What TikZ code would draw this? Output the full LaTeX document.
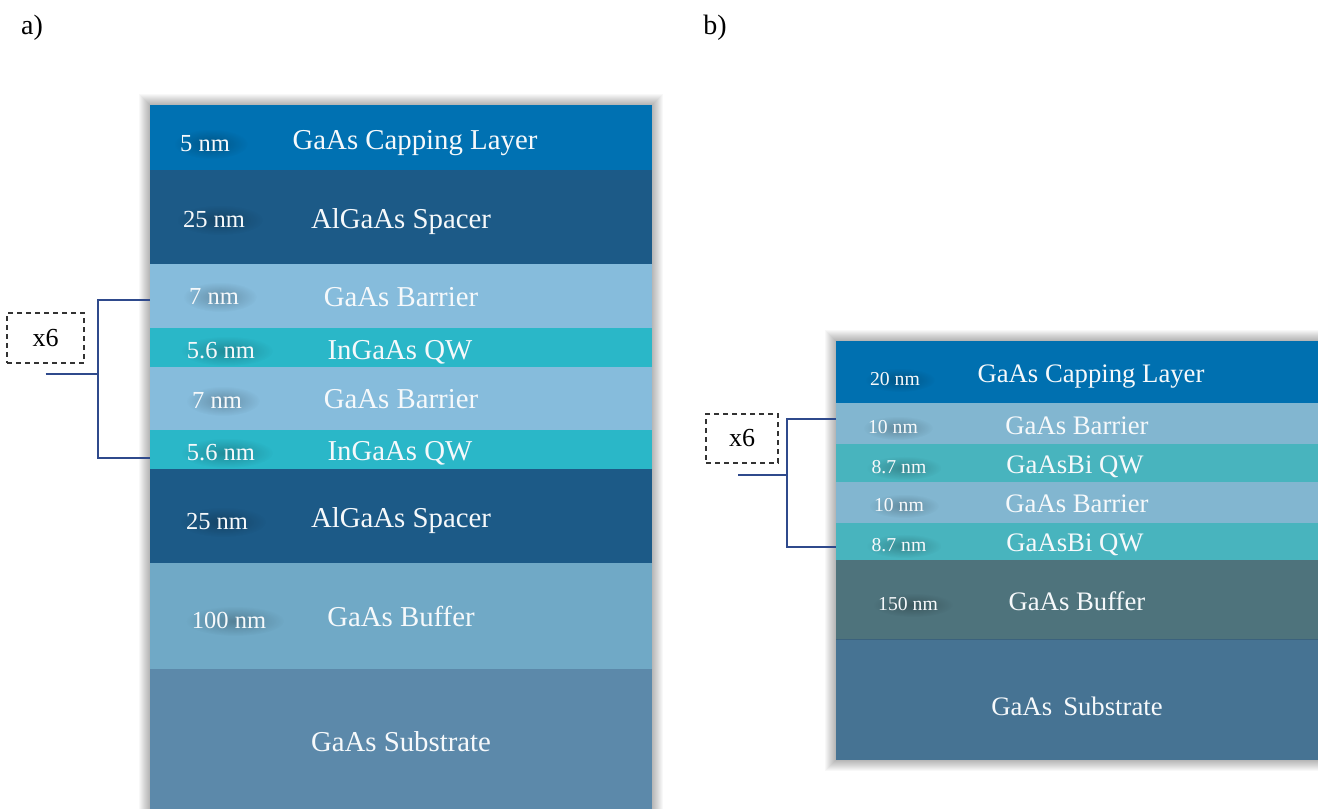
\documentclass[tikz,border=0pt]{standalone}
\usepackage{fontspec}
\setmainfont{Liberation Serif}
\usetikzlibrary{calc,fadings}

% layer colours, structure (a)
\definecolor{capA}{HTML}{0071B2}
\definecolor{spcA}{HTML}{1C5A87}
\definecolor{barA}{HTML}{86BCDC}
\definecolor{qwA}{HTML}{2AB7C8}
\definecolor{bufA}{HTML}{70A9C6}
\definecolor{subA}{HTML}{5C89AA}
% layer colours, structure (b)
\definecolor{capB}{HTML}{0070B0}
\definecolor{barB}{HTML}{82B6D0}
\definecolor{qwB}{HTML}{48B4BE}
\definecolor{bufB}{HTML}{4E737C}
\definecolor{subB}{HTML}{467393}
\definecolor{bracecol}{HTML}{2F4A8C}
\definecolor{labwhite}{HTML}{F6F9FB}

% soft radial blob used as a faint dark halo behind the thickness labels
\tikzfading[name=softglow, inner color=transparent!76, outer color=transparent!100]

\pgfdeclarelayer{bg}
\pgfdeclarelayer{glow}
\pgfsetlayers{bg,glow,main}

\begin{document}
\begin{tikzpicture}[x=1pt,y=-1pt,
  layer/.style={rectangle, inner sep=0pt, outer sep=0pt, anchor=north west, draw=none},
  lab/.style={text=labwhite, inner sep=0pt, text depth=0pt},
  mainA/.style={lab, text height=19pt, font=\fontsize{28.8}{30}\selectfont},
  mainB/.style={lab, text height=17.6pt, font=\fontsize{26.7}{28}\selectfont},
  thkA/.style={lab, text height=16.6pt, font=\fontsize{24.5}{26}\selectfont},
  thkB/.style={lab, text height=13.4pt, font=\fontsize{19.7}{21}\selectfont},
  repbox/.style={draw=black!80, dashed, dash pattern=on 5pt off 4pt, line width=1.3pt,
                 inner sep=0pt, font=\fontsize{26}{28}\selectfont},
  brace/.style={draw=bracecol, line width=1.5pt},
  panel/.style={font=\fontsize{28}{30}\selectfont, inner sep=0pt}]

\useasboundingbox (0,0) rectangle (1318,809);

\begin{pgfonlayer}{bg}
\fill[white] (0,0) rectangle (1318,809);
% soft grey glow around both stacks
\foreach \r in {1,...,11}{
  \fill[black, opacity=0.028] (150-\r,105-\r) rectangle (652+\r,809);
  \fill[black, opacity=0.028] (836-\r,341-\r) rectangle (1318,760+\r);
}
% ---------------- structure (a) layers ----------------
\node[layer, fill=capA, minimum width=502pt, minimum height=65pt] (a1) at (150,105) {};
\node[layer, fill=spcA, minimum width=502pt, minimum height=94pt] (a2) at (150,170) {};
\node[layer, fill=barA, minimum width=502pt, minimum height=64pt] (a3) at (150,264) {};
\node[layer, fill=qwA,  minimum width=502pt, minimum height=39pt] (a4) at (150,328) {};
\node[layer, fill=barA, minimum width=502pt, minimum height=63pt] (a5) at (150,367) {};
\node[layer, fill=qwA,  minimum width=502pt, minimum height=39pt] (a6) at (150,430) {};
\node[layer, fill=spcA, minimum width=502pt, minimum height=94pt] (a7) at (150,469) {};
\node[layer, fill=bufA, minimum width=502pt, minimum height=106pt] (a8) at (150,563) {};
\node[layer, fill=subA, minimum width=502pt, minimum height=140pt] (a9) at (150,669) {};
% ---------------- structure (b) layers ----------------
\node[layer, fill=capB, minimum width=482pt, minimum height=62pt] (b1) at (836,341) {};
\node[layer, fill=barB, minimum width=482pt, minimum height=41pt] (b2) at (836,403) {};
\node[layer, fill=qwB,  minimum width=482pt, minimum height=38pt] (b3) at (836,444) {};
\node[layer, fill=barB, minimum width=482pt, minimum height=41pt] (b4) at (836,482) {};
\node[layer, fill=qwB,  minimum width=482pt, minimum height=37pt] (b5) at (836,523) {};
\node[layer, fill=bufB, minimum width=482pt, minimum height=79pt] (b6) at (836,560) {};
\node[layer, fill=subB, minimum width=482pt, minimum height=121pt] (b7) at (836,639) {};
\draw[subB!85!black, line width=0.6pt] (b6.south west) -- (b6.south east);
\end{pgfonlayer}

% panel letters
\node[panel] (pa) at (32,28) {a)};
\node[panel] (pb) at (715,28) {b)};

% ---------------- structure (a) labels ----------------
\node[thkA] (a1t) at (205,143) {5 nm};
\node[mainA] (a1m) at (415,140) {GaAs Capping Layer};
\node[thkA] (a2t) at (214,219) {25 nm};
\node[mainA] (a2m) at (401,219) {AlGaAs Spacer};
\node[thkA] (a3t) at (214,296) {7 nm};
\node[mainA] (a3m) at (401,297) {GaAs Barrier};
\node[thkA] (a4t) at (221,350) {5.6 nm};
\node[mainA] (a4m) at (400,350) {InGaAs QW};
\node[thkA] (a5t) at (217,400) {7 nm};
\node[mainA] (a5m) at (401,399) {GaAs Barrier};
\node[thkA] (a6t) at (221,452) {5.6 nm};
\node[mainA] (a6m) at (400,451) {InGaAs QW};
\node[thkA] (a7t) at (217,521) {25 nm};
\node[mainA] (a7m) at (401,518) {AlGaAs Spacer};
\node[thkA] (a8t) at (229,620) {100 nm};
\node[mainA] (a8m) at (401,617) {GaAs Buffer};
\node[mainA] (a9m) at (401,742) {GaAs Substrate};

% repetition bracket (a)
\node[repbox, minimum width=77pt, minimum height=50pt] (xa) at (45.5,338) {x6};
\coordinate (xaSpine) at (98,374);
\coordinate (xaTail) at (xa.south |- xaSpine);
\draw[brace] ($(a3.west)+(0,4)$) -| ($(a6.west)+(-52,8.5)$) -- ($(a6.west)+(0,8.5)$);
\draw[brace] (xaTail) -- (xaSpine);

% ---------------- structure (b) labels ----------------
\node[thkB] (b1t) at (895,379) {20 nm};
\node[mainB] (b1m) at (1091,374) {GaAs Capping Layer};
\node[thkB] (b2t) at (893,427) {10 nm};
\node[mainB] (b2m) at (1077,426) {GaAs Barrier};
\node[thkB] (b3t) at (899,467) {8.7 nm};
\node[mainB] (b3m) at (1075,465) {GaAsBi QW};
\node[thkB] (b4t) at (899,505) {10 nm};
\node[mainB] (b4m) at (1077,504) {GaAs Barrier};
\node[thkB] (b5t) at (899,545) {8.7 nm};
\node[mainB] (b5m) at (1075,543) {GaAsBi QW};
\node[thkB] (b6t) at (908,604) {150 nm};
\node[mainB] (b6m) at (1077,602) {GaAs Buffer};
\node[mainB] (b7m) at (1077,707) {GaAs\ \,Substrate};

% repetition bracket (b)
\node[repbox, minimum width=72pt, minimum height=49pt] (xb) at (742,438.5) {x6};
\coordinate (xbSpine) at (787,475);
\coordinate (xbTail) at ($(xb.south |- xbSpine)+(-4,0)$);
\draw[brace] ($(b2.west)+(0,-4.5)$) -| ($(b5.west)+(-49,5.5)$) -- ($(b5.west)+(0,5.5)$);
\draw[brace] (xbTail) -- (xbSpine);

% faint dark halos behind the thickness labels
\begin{pgfonlayer}{glow}
\foreach \lab in {a1t,a2t,a3t,a4t,a5t,a6t,a7t,a8t}
  \path let \p1 = ($(\lab.east)-(\lab.west)$) in
    [fill=black, path fading=softglow]
    ($(\lab.center)+(6,1)$) ellipse [x radius={0.5*\x1+12pt}, y radius=15pt];
\foreach \lab in {b1t,b2t,b3t,b4t,b5t,b6t}
  \path let \p1 = ($(\lab.east)-(\lab.west)$) in
    [fill=black, path fading=softglow]
    ($(\lab.center)+(5,1)$) ellipse [x radius={0.5*\x1+10pt}, y radius=12pt];
\end{pgfonlayer}

\end{tikzpicture}
\end{document}
